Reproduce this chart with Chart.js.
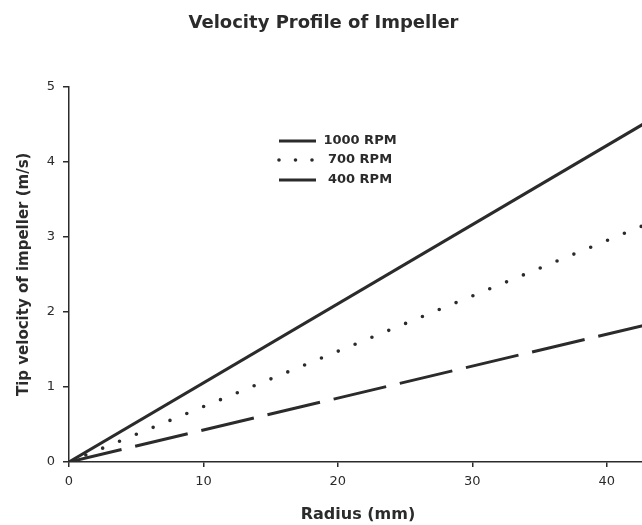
<!DOCTYPE html>
<html>
<head>
<meta charset="utf-8">
<script src="https://cdn.jsdelivr.net/npm/chart.js@4.4.1/dist/chart.umd.min.js"></script>
<style>
  html, body { margin: 0; padding: 0; background: #fff; overflow: hidden; }
  #wrap { width: 642px; height: 525px; overflow: hidden; }
</style>
</head>
<body>
<div id="wrap"><canvas id="velChart" width="716" height="525"></canvas></div>
<script>
// radius (mm) and tip velocity (m/s)
var radius = [0, 43];
var rpm1000 = [0, 4.53];
var rpm700 = [0, 3.17];
var rpm400 = [0, 1.83];
var seriesNames = ['1000 RPM', '700 RPM', '400 RPM'];
var xTicks = [0, 10, 20, 30, 40];
var yTicks = [0, 1, 2, 3, 4, 5];

var ink = '#2b2b2b';
var fontFamily = '"DejaVu Sans", sans-serif';

function pts(ys) {
    return radius.map(function (r, i) { return { x: r, y: ys[i] }; });
}

// legend drawn inside the plot, like the original figure
var insideLegend = {
    id: 'insideLegend',
    afterDatasetsDraw: function (chart) {
        var ctx = chart.ctx;
        var rows = [141, 160, 180];
        ctx.save();
        ctx.font = 'bold 13px ' + fontFamily;
        ctx.fillStyle = ink;
        ctx.textAlign = 'center';
        ctx.textBaseline = 'middle';
        chart.data.datasets.forEach(function (ds, i) {
            var y = rows[i];
            ctx.strokeStyle = ds.borderColor;
            ctx.lineWidth = ds.borderWidth;
            ctx.lineCap = ds.borderCapStyle || 'butt';
            ctx.setLineDash(ds.borderDash && ds.borderDash[0] === 0 ? [0, 16.5] : []);
            ctx.beginPath();
            ctx.moveTo(279, y);
            ctx.lineTo(ds.borderDash && ds.borderDash[0] === 0 ? 314 : 316, y);
            ctx.stroke();
            ctx.fillText(ds.label, 360, y);
        });
        ctx.restore();
    }
};

var ctx = document.getElementById('velChart').getContext('2d');
var myChart = new Chart(ctx, {
    type: 'line',
    data: {
        datasets: [{
            label: seriesNames[0],
            data: pts(rpm1000),
            borderColor: ink,
            borderWidth: 3
        }, {
            label: seriesNames[1],
            data: pts(rpm700),
            borderColor: ink,
            borderWidth: 3.6,
            borderDash: [0, 18.2],
            borderCapStyle: 'round'
        }, {
            label: seriesNames[2],
            data: pts(rpm400),
            borderColor: ink,
            borderWidth: 3,
            borderDash: [54, 14]
        }]
    },
    options: {
        responsive: false,
        animation: false,
        devicePixelRatio: 1,
        layout: { padding: { left: 0, right: 69, top: 0, bottom: 0 } },
        elements: { point: { radius: 0 }, line: { tension: 0 } },
        plugins: {
            legend: { display: false },
            tooltip: { enabled: false },
            title: {
                display: true,
                text: 'Velocity Profile of Impeller',
                color: ink,
                font: { family: fontFamily, size: 18, weight: 'bold' },
                padding: { top: 13, bottom: 52 }
            }
        },
        scales: {
            x: {
                type: 'linear',
                min: 0,
                max: 43,
                afterFit: function (s) { s.height = 63; },
                afterBuildTicks: function (s) { s.ticks = xTicks.map(function (v) { return { value: v }; }); },
                ticks: { color: ink, padding: 7, font: { family: fontFamily, size: 13 } },
                grid: { drawOnChartArea: false, tickLength: 5, color: ink, lineWidth: 1.5 },
                border: { color: ink, width: 1.5 },
                title: {
                    display: true,
                    text: 'Radius (mm)',
                    color: ink,
                    font: { family: fontFamily, size: 16, weight: 'bold' },
                    padding: { top: 0, bottom: 1 }
                }
            },
            y: {
                min: 0,
                max: 5,
                afterFit: function (s) { s.width = 69; },
                afterBuildTicks: function (s) { s.ticks = yTicks.map(function (v) { return { value: v }; }); },
                ticks: { color: ink, padding: 8, font: { family: fontFamily, size: 13 } },
                grid: { drawOnChartArea: false, tickLength: 6, color: ink, lineWidth: 1.5 },
                border: { color: ink, width: 1.5 },
                title: {
                    display: true,
                    text: 'Tip velocity of impeller (m/s)',
                    color: ink,
                    font: { family: fontFamily, size: 15, weight: 'bold' },
                    padding: { top: 15, bottom: 0 }
                }
            }
        }
    },
    plugins: [insideLegend]
});
</script>
</body>
</html>
